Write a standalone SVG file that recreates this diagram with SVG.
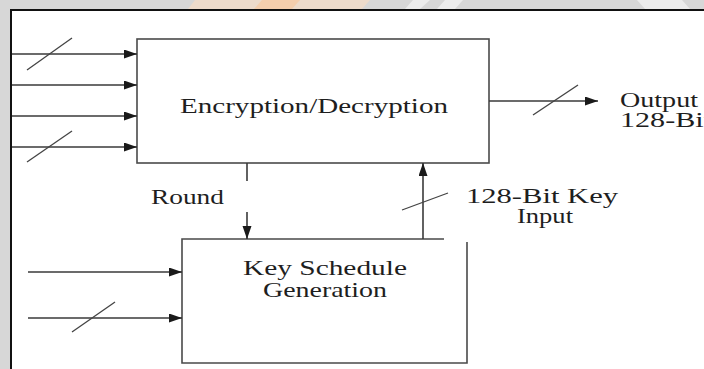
<svg xmlns="http://www.w3.org/2000/svg" width="704" height="369" viewBox="0 0 704 369">
<defs>
<marker id="ah" markerUnits="userSpaceOnUse" markerWidth="14" markerHeight="10" refX="13" refY="4.5" orient="auto">
<path d="M0,0 L13,4.5 L0,9 Z" fill="#1a1a1a"/>
</marker>
</defs>
<style>
.box{fill:none;stroke:#4a4a4a;stroke-width:1.6}
.ln{fill:none;stroke:#3a3a3a;stroke-width:1.6}
.sl{fill:none;stroke:#444;stroke-width:1.3}
.t{font-family:"Liberation Serif","Times New Roman",serif;font-size:21px;fill:#1e1e1e}
</style>
<rect x="0" y="0" width="704" height="369" fill="#d7d7d7"/>
<polygon points="195,0 370,0 362,9 188,9" fill="#f2dcc8" opacity="0.8"/>
<polygon points="262,0 300,0 292,9 254,9" fill="#f6c9a0" opacity="0.7"/>
<polygon points="413,0 430,0 420,9 405,9" fill="#ececec"/>
<polygon points="445,0 463,0 455,9 437,9" fill="#ececec"/>
<polygon points="637,0 682,0 690,9 645,9" fill="#ececec"/>
<rect x="11" y="10" width="700" height="365" fill="#ffffff" stroke="#111" stroke-width="2"/>

<g id="enc">
<rect class="box" x="137" y="39" width="352" height="124"/>
<text class="t" x="180" y="113" textLength="268" lengthAdjust="spacingAndGlyphs">Encryption/Decryption</text>
</g>

<g id="ksg">
<path class="box" d="M444,239 L182,239 L182,363 L467,363 L467,242"/>
<text class="t" x="243" y="275" textLength="164" lengthAdjust="spacingAndGlyphs">Key Schedule</text>
<text class="t" x="263" y="297" textLength="124" lengthAdjust="spacingAndGlyphs">Generation</text>
</g>

<g id="labels">
<text class="t" x="151" y="204" textLength="73" lengthAdjust="spacingAndGlyphs">Round</text>
<text class="t" x="466" y="203" textLength="152" lengthAdjust="spacingAndGlyphs">128-Bit Key</text>
<text class="t" x="517" y="223" textLength="56" lengthAdjust="spacingAndGlyphs">Input</text>
<text class="t" x="620" y="107" textLength="78" lengthAdjust="spacingAndGlyphs">Output</text>
<text class="t" x="620" y="127" textLength="92" lengthAdjust="spacingAndGlyphs">128-Bit</text>
</g>

<g id="connectors">
<line class="ln" x1="12" y1="54" x2="137" y2="54" marker-end="url(#ah)"/>
<line class="ln" x1="12" y1="85" x2="137" y2="85" marker-end="url(#ah)"/>
<line class="ln" x1="12" y1="116" x2="137" y2="116" marker-end="url(#ah)"/>
<line class="ln" x1="12" y1="147" x2="137" y2="147" marker-end="url(#ah)"/>
<line class="sl" x1="27" y1="70" x2="72" y2="38"/>
<line class="sl" x1="27" y1="162" x2="72" y2="131"/>

<line class="ln" x1="489" y1="101" x2="598" y2="101" marker-end="url(#ah)"/>
<line class="sl" x1="533" y1="115" x2="578" y2="85"/>

<line class="ln" x1="247" y1="163" x2="247" y2="181"/>
<line class="ln" x1="247" y1="212" x2="247" y2="239" marker-end="url(#ah)"/>

<line class="ln" x1="423" y1="239" x2="423" y2="163" marker-end="url(#ah)"/>
<line class="sl" x1="402" y1="210" x2="448" y2="193"/>

<line class="ln" x1="28" y1="272" x2="182" y2="272" marker-end="url(#ah)"/>
<line class="ln" x1="28" y1="318" x2="182" y2="318" marker-end="url(#ah)"/>
<line class="sl" x1="72" y1="332" x2="115" y2="302"/>
</g>
</svg>
